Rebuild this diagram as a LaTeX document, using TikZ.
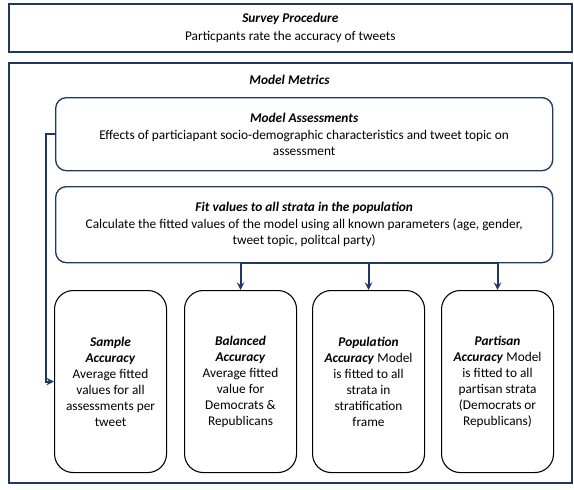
\documentclass[tikz,border=0pt]{standalone}
\usepackage{fontspec}
\setmainfont{Carlito}
\usepackage{xcolor}
\usepackage{tikz}
\usetikzlibrary{arrows}
\usetikzlibrary{positioning}
\usetikzlibrary{calc}
\definecolor{navy}{RGB}{31,56,100}
\newcommand{\bit}[1]{\textbf{\textit{#1}}}

\begin{document}
\begin{tikzpicture}[>=stealth, x=0.75pt, y=-0.75pt,
			font=\fontsize{10}{12}\selectfont,
			frame/.style={draw=navy, line width=1.2pt, anchor=north west, minimum width=422.25pt, align=center},
			stage/.style={draw=navy, line width=1pt, rounded corners=8pt, anchor=north west, minimum width=372.75pt, align=center},
			metric/.style={draw, line width=0.8pt, rounded corners=14pt, anchor=north west, minimum width=84pt, minimum height=136.5pt, align=center, inner sep=2pt},
			link/.style={->, draw=navy, line width=1.5pt}]
			\useasboundingbox (0,0) rectangle (574,489);
			%coordinates
			\coordinate (LLS) at (8,3);
			\coordinate (LLM) at (8,62);
			\coordinate (LLA) at (55,97);
			\coordinate (LLF) at (55,186);
			\coordinate (LLone)   at (54,290);
			\coordinate (LLtwo)   at (184,290);
			\coordinate (LLthree) at (312,290);
			\coordinate (LLfour)  at (441,290);
			
			%nodes
			\node[frame, minimum height=36pt] (survey) at (LLS) {\bit{Survey Procedure}\\[1pt] Particpants rate the accuracy of tweets};
			\node[frame, minimum height=315pt] (metrics) at (LLM) {};
			\node (mtitle) at (289.5,80) {\bit{Model Metrics}};
			\node[stage, minimum height=54.75pt] (assess) at (LLA) {\bit{Model Assessments}\\[1pt] Effects of particiapant socio-demographic characteristics and tweet topic on\\ assessment};
			\node[stage, minimum height=57pt] (fit) at (LLF) {\bit{Fit values to all strata in the population}\\[1pt] Calculate the fitted values of the model using all known parameters (age, gender,\\ tweet topic, politcal party)};
			
			\node[metric] (sample) at (LLone) {\bit{Sample}\\ \bit{Accuracy}\\ Average fitted\\ values for all\\ assessments per\\ tweet};
			\node[metric] (balanced) at (LLtwo) {\bit{Balanced}\\ \bit{Accuracy}\\ Average fitted\\ value for\\ Democrats \&\\ Republicans};
			\node[metric] (population) at (LLthree) {\bit{Population}\\ \bit{Accuracy} Model\\ is fitted to all\\ strata in\\ stratification\\ frame};
			\node[metric] (partisan) at (LLfour) {\bit{Partisan}\\ \bit{Accuracy} Model\\ is fitted to all\\ partisan strata\\ (Democrats or\\ Republicans)};
			
			%connectors
			\draw[navy, line width=1.5pt] (fit.south -| balanced.north) -- (fit.south -| partisan.north);
			\draw[link] (fit.south -| balanced.north) -- (balanced.north);
			\draw[link] (fit.south -| population.north) -- (population.north);
			\draw[link] (fit.south -| partisan.north) -- (partisan.north);
			\draw[link] (assess.west) -- ++(-9,0) |- (sample.west);
			\end{tikzpicture}
\end{document}
